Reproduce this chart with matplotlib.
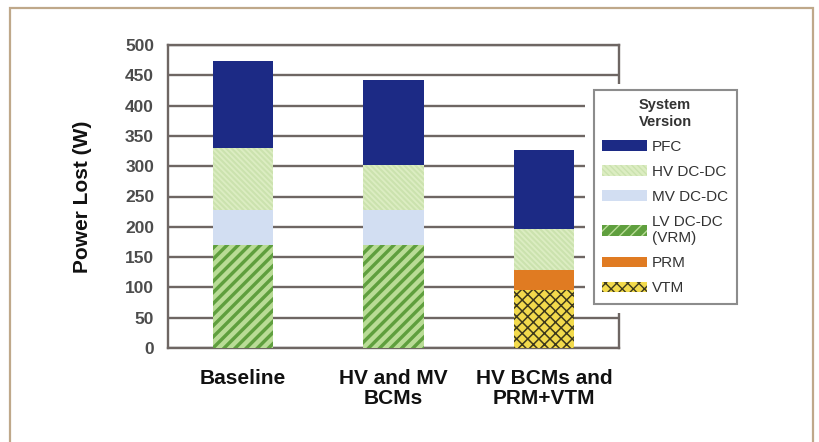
import matplotlib
matplotlib.use("Agg")
import matplotlib.pyplot as plt
from matplotlib.patches import Rectangle
import numpy as np

categories = ["Baseline", "HV and MV\nBCMs", "HV BCMs and\nPRM+VTM"]
series_names = ["VTM", "PRM", "LV DC-DC\n(VRM)", "MV DC-DC", "HV DC-DC", "PFC"]
vtm = [0, 0, 95]
prm = [0, 0, 33]
lv_dcdc = [170, 170, 0]
mv_dcdc = [57, 57, 0]
hv_dcdc = [103, 75, 68]
pfc = [143, 140, 130]
yticks = [0, 50, 100, 150, 200, 250, 300, 350, 400, 450, 500]

plt.rcParams['font.family'] = ['Liberation Sans', 'DejaVu Sans']

W, H = 819, 442
fig = plt.figure(figsize=(W / 100, H / 100), dpi=100)
fig.patch.set_facecolor('white')

# outer frame
fig.add_artist(Rectangle((10 / W, -0.05), (813 - 10) / W, (442 - 8) / H + 0.05,
                         transform=fig.transFigure, fill=False,
                         edgecolor='#bfa88a', linewidth=1.6, zorder=0))

ax = fig.add_axes([168 / W, 1 - 348 / H, (619 - 168) / W, (348 - 45) / H])
x = np.arange(len(categories))
width = 0.4
grid_c = '#6e6663'

styles = [
    dict(data=vtm, face='#f2da4c', hatch='xxx', hc='#3e3a1c', hlw=1.1),
    dict(data=prm, face='#e07b22', hatch=None, hc=None, hlw=1),
    dict(data=lv_dcdc, face='#5f9f3e', hatch='///', hc='#b9dc96', hlw=3.2),
    dict(data=mv_dcdc, face='#d2def2', hatch=None, hc=None, hlw=1),
    dict(data=hv_dcdc, face='#dcedc2', hatch='\\\\\\\\\\\\', hc='#cbe2ae', hlw=1.5),
    dict(data=pfc, face='#1c2a85', hatch=None, hc=None, hlw=1),
]

bottom = np.zeros(len(categories))
handles = {}
for name, st in zip(series_names, styles):
    vals = np.array(st['data'], dtype=float)
    plt.rcParams['hatch.linewidth'] = st['hlw']
    if st['hatch']:
        bars = ax.bar(x, vals, width, bottom=bottom, facecolor=st['face'],
                      edgecolor=st['hc'], hatch=st['hatch'], linewidth=0, zorder=3)
    else:
        bars = ax.bar(x, vals, width, bottom=bottom, facecolor=st['face'],
                      edgecolor=st['face'], linewidth=0, zorder=3)
    handles[name] = bars
    bottom += vals

ax.set_xlim(-0.5, 2.5)
ax.set_ylim(0, 500)
ax.set_yticks(yticks)
ax.set_yticklabels([str(v) for v in yticks], fontsize=12.5, fontweight='bold',
                   color='#4c4c4c')
ax.set_xticks(x)
ax.set_xticklabels(categories, fontsize=15, fontweight='bold', color='#111111',
                   linespacing=1.1)
ax.tick_params(axis='both', length=0)
ax.tick_params(axis='y', pad=10)
ax.tick_params(axis='x', pad=15)
ax.yaxis.grid(True, color=grid_c, linewidth=1.7, zorder=0)
ax.set_axisbelow(True)
for s in ax.spines.values():
    s.set_color(grid_c)
    s.set_linewidth(1.7)

ax.set_ylabel("Power Lost (W)", fontsize=15, fontweight='bold', color='#111111')
ax.yaxis.set_label_coords(-0.168, 0.5)

# white area behind legend
fig.add_artist(Rectangle((585 / W, 1 - 313 / H), (760 - 585) / W, (313 - 84) / H,
                         transform=fig.transFigure, facecolor='white',
                         edgecolor='none', zorder=2))

order = ["PFC", "HV DC-DC", "MV DC-DC", "LV DC-DC\n(VRM)", "PRM", "VTM"]
leg = fig.legend([handles[n] for n in order], order,
                 loc='upper left', bbox_to_anchor=(594 / W, 1 - 90 / H),
                 title="System\nVersion", fontsize=11, frameon=True,
                 fancybox=False, handlelength=2.9, handleheight=0.7,
                 labelspacing=0.72, borderpad=0.55, handletextpad=0.35,
                 borderaxespad=0)
leg.get_title().set_fontweight('bold')
leg.get_title().set_fontsize(10.5)
leg.get_title().set_color('#333333')
leg.get_title().set_linespacing(1.25)
leg.get_frame().set_edgecolor('#707070')
leg.get_frame().set_linewidth(1.5)
leg.set_zorder(5)
for t in leg.get_texts():
    t.set_color('#333333')
    t.set_fontweight('medium')

fig.savefig("out.png", dpi=100)
